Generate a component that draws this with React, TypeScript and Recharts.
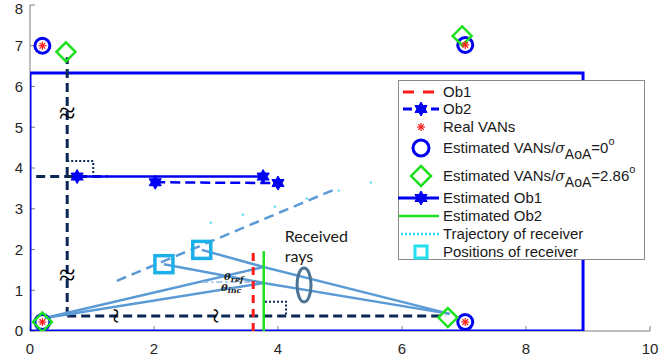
import React from "react";
import { Legend, Scatter, ScatterChart, XAxis, YAxis } from "recharts";

type Pt = { x: number; y: number; text?: string };

const W = 660;
const H = 362;

const BLUE = "#0000f2";
const NAVY = "#0b2754";
const RED = "#ff1a1a";
const GREEN = "#1ee01e";
const RAY = "#5b9bd5";
const CYAN = "#1cb0e8";
const AXIS = "#7f7f7f";

const xTicks = [0, 2, 4, 6, 8, 10];
const yTicks = [0, 1, 2, 3, 4, 5, 6, 7, 8];

// room walls
const room: Pt[] = [
  { x: 0, y: 0 },
  { x: 8.92, y: 0 },
  { x: 8.92, y: 6.33 },
  { x: 0, y: 6.33 },
  { x: 0, y: 0 },
];

const realVans: Pt[] = [
  { x: 0.2, y: 7.0 },
  { x: 7.02, y: 7.02 },
  { x: 0.2, y: 0.22 },
  { x: 7.02, y: 0.22 },
];
const estVansExact: Pt[] = [
  { x: 0.2, y: 7.0 },
  { x: 7.02, y: 7.02 },
  { x: 0.2, y: 0.22 },
  { x: 7.02, y: 0.22 },
];
const estVansNoisy: Pt[] = [
  { x: 0.58, y: 6.85 },
  { x: 6.97, y: 7.24 },
  { x: 0.2, y: 0.22 },
  { x: 6.74, y: 0.33 },
];

const ob1: Pt[] = [
  { x: 3.6, y: 0 },
  { x: 3.6, y: 2.04 },
];
const ob2: Pt[] = [
  { x: 2.02, y: 3.65 },
  { x: 4.0, y: 3.63 },
];
const estOb1: Pt[] = [
  { x: 0.76, y: 3.79 },
  { x: 3.76, y: 3.79 },
];
const estOb2: Pt[] = [
  { x: 3.77, y: 0 },
  { x: 3.77, y: 1.96 },
];

// receiver positions and reflected rays
const rxPositions: Pt[] = [
  { x: 2.16, y: 1.64 },
  { x: 2.77, y: 1.99 },
];
const tx: Pt = { x: 0.24, y: 0.32 };
const rxEnd: Pt = { x: 6.77, y: 0.42 };
const hitHigh: Pt = { x: 3.77, y: 1.57 };
const hitLow: Pt = { x: 3.77, y: 1.18 };
const rays: Pt[][] = [
  [tx, hitHigh, rxEnd],
  [tx, hitLow, rxEnd],
  [rxPositions[1], hitHigh],
  [rxPositions[0], hitLow],
];
const rayNormal: Pt[] = [
  { x: 2.78, y: 1.2 },
  { x: 3.55, y: 1.2 },
];
const rxLine: Pt[] = [
  { x: 1.4, y: 1.23 },
  { x: 4.97, y: 3.51 },
];
const trajectory: Pt[] = [
  { x: 2.9, y: 2.65 },
  { x: 5.75, y: 3.74 },
];

// projection guides
const guideVertical: Pt[] = [
  { x: 0.6, y: 0.37 },
  { x: 0.6, y: 6.72 },
];
const guideBottom: Pt[] = [
  { x: 0.6, y: 0.37 },
  { x: 6.7, y: 0.37 },
];
const guideTop: Pt[] = [
  { x: 0.1, y: 3.79 },
  { x: 1.25, y: 3.79 },
];
const cornerTop: Pt[] = [
  { x: 0.6, y: 4.17 },
  { x: 1.02, y: 4.17 },
  { x: 1.02, y: 3.8 },
];
const cornerBottom: Pt[] = [
  { x: 3.79, y: 0.72 },
  { x: 4.13, y: 0.72 },
  { x: 4.13, y: 0.39 },
];

const approxMarks: Pt[] = [
  { x: 0.6, y: 5.35 },
  { x: 0.6, y: 1.37 },
];
const breakMarks: Pt[] = [
  { x: 1.37, y: 0.37 },
  { x: 2.98, y: 0.37 },
];
const rayLabel: Pt[] = [
  { x: 4.11, y: 2.18, text: "Received" },
  { x: 4.11, y: 1.7, text: "rays" },
];
const angleLabels: Pt[] = [
  { x: 3.13, y: 1.25, text: "ref" },
  { x: 3.08, y: 0.97, text: "inc" },
];
const rayBundle: Pt[] = [{ x: 4.42, y: 1.13 }];

const legendLabels = [
  "Ob1",
  "Ob2",
  "Real VANs",
  "Estimated VANs/",
  "Estimated VANs/",
  "Estimated Ob1",
  "Estimated Ob2",
  "Trajectory of receiver",
  "Positions of receiver",
];
const sigmaValues = ["0", "2.86"];

const hidden = () => <g />;

const circleShape = (p: any) => (
  <circle cx={p.cx} cy={p.cy} r={7.5} fill="none" stroke={BLUE} strokeWidth={3} />
);

const diamondPoints = (cx: number, cy: number, s: number) =>
  `${cx},${cy - s} ${cx + s},${cy} ${cx},${cy + s} ${cx - s},${cy}`;

const diamondShape = (p: any) => (
  <polygon
    points={diamondPoints(p.cx, p.cy, 9.5)}
    fill="none"
    stroke={GREEN}
    strokeWidth={2.5}
  />
);

const asterisk = (cx: number, cy: number, r: number) => {
  const lines = [];
  for (let i = 0; i < 4; i++) {
    const a = (i * Math.PI) / 4;
    lines.push(
      <line
        key={i}
        x1={cx - r * Math.cos(a)}
        y1={cy - r * Math.sin(a)}
        x2={cx + r * Math.cos(a)}
        y2={cy + r * Math.sin(a)}
        stroke={RED}
        strokeWidth={1.2}
      />,
    );
  }
  return <g>{lines}</g>;
};
const asteriskShape = (p: any) => asterisk(p.cx, p.cy, 4);

const hexagram = (cx: number, cy: number, r: number) => {
  const pts: string[] = [];
  for (let i = 0; i < 12; i++) {
    const a = (i * Math.PI) / 6 - Math.PI / 2;
    const rr = i % 2 === 0 ? r : r * 0.58;
    pts.push(`${cx + rr * Math.cos(a)},${cy + rr * Math.sin(a)}`);
  }
  return <polygon points={pts.join(" ")} fill={BLUE} stroke={BLUE} strokeWidth={1} />;
};
const hexShape = (p: any) => hexagram(p.cx, p.cy, 7);

const squareShape = (p: any) => (
  <rect
    x={p.cx - 9}
    y={p.cy - 8.5}
    width={18}
    height={17}
    fill="none"
    stroke={CYAN}
    strokeWidth={3.5}
  />
);

const approxShape = (p: any) => (
  <text
    x={p.cx}
    y={p.cy + 10}
    textAnchor="middle"
    fontFamily="Liberation Serif"
    fontSize={30}
    fill="#000"
  >
    ≈
  </text>
);

const breakShape = (p: any) => (
  <text
    x={p.cx}
    y={p.cy + 8}
    textAnchor="middle"
    fontFamily="Liberation Serif"
    fontSize={28}
    fill="#000"
    transform={`rotate(90 ${p.cx} ${p.cy})`}
  >
    ~
  </text>
);

const rayLabelShape = (p: any) => (
  <text x={p.cx} y={p.cy} fontFamily="Lato" fontSize={16} fill="#1a1a1a">
    {p.payload.text}
  </text>
);

const angleShape = (p: any) => (
  <text
    x={p.cx}
    y={p.cy}
    fontFamily="DejaVu Serif"
    fontStyle="italic"
    fontWeight="bold"
    fontSize={10}
    fill="#1a1a1a"
  >
    θ
    <tspan fontSize={8} dy={2}>
      {p.payload.text}
    </tspan>
  </text>
);

const bundleShape = (p: any) => (
  <ellipse cx={p.cx} cy={p.cy} rx={7} ry={17} fill="none" stroke="#4a7396" strokeWidth={3} />
);

const path = (
  key: string,
  data: Pt[],
  stroke: string,
  width: number,
  dash?: string,
  shape: any = hidden,
) => (
  <Scatter
    key={key}
    data={data}
    fill={stroke}
    line={{ stroke, strokeWidth: width, strokeDasharray: dash }}
    shape={shape}
    legendType="none"
    isAnimationActive={false}
  />
);

const marks = (key: string, data: Pt[], shape: any) => (
  <Scatter
    key={key}
    data={data}
    shape={shape}
    legendType="none"
    isAnimationActive={false}
  />
);

function LegendBox() {
  const rowY = [12, 29, 47, 68, 96, 118, 136, 154, 172];
  const mx = 22;
  const font = { fontFamily: "Liberation Sans", fontSize: 15, fill: "#1a1a1a" };
  const marker = (i: number, y: number) => {
    switch (i) {
      case 0:
        return (
          <line x1={4} x2={40} y1={y} y2={y} stroke={RED} strokeWidth={3} strokeDasharray="11 9" />
        );
      case 1:
        return (
          <g>
            <line x1={4} x2={40} y1={y} y2={y} stroke={BLUE} strokeWidth={3} strokeDasharray="9 5" />
            {hexagram(mx, y, 7)}
          </g>
        );
      case 2:
        return asterisk(mx, y, 4);
      case 3:
        return <circle cx={mx} cy={y} r={8} fill="none" stroke={BLUE} strokeWidth={3} />;
      case 4:
        return (
          <polygon points={diamondPoints(mx, y, 10)} fill="none" stroke={GREEN} strokeWidth={2.5} />
        );
      case 5:
        return (
          <g>
            <line x1={-1} x2={40} y1={y} y2={y} stroke={BLUE} strokeWidth={3} />
            {hexagram(mx, y, 7)}
          </g>
        );
      case 6:
        return <line x1={0} x2={40} y1={y} y2={y} stroke={GREEN} strokeWidth={2.5} />;
      case 7:
        return (
          <line x1={2} x2={40} y1={y} y2={y} stroke="#22e0f0" strokeWidth={2.5} strokeDasharray="2 2" />
        );
      default:
        return <rect x={mx - 6} y={y - 6} width={12} height={12} fill="none" stroke="#22e0f0" strokeWidth={3} />;
    }
  };
  return (
    <div
      style={{
        width: 247,
        height: 180,
        boxSizing: "border-box",
        border: "1px solid #8a8a8a",
        background: "#fff",
      }}
    >
      <svg width={245} height={178} style={{ display: "block", overflow: "visible" }}>
        {legendLabels.map((label, i) => {
          const y = rowY[i] - 1;
          const sigma = i === 3 || i === 4 ? sigmaValues[i - 3] : null;
          return (
            <g key={label + i}>
              {marker(i, y)}
              <text x={44} y={y + 5} {...font}>
                {label}
                {sigma !== null && (
                  <>
                    <tspan fontStyle="italic" fontFamily="DejaVu Serif" fontSize={14}>
                      σ
                    </tspan>
                    <tspan fontSize={14} dy={6}>
                      AoA
                    </tspan>
                    <tspan dy={-6}>={sigma}</tspan>
                    <tspan fontSize={11} dy={-8}>
                      o
                    </tspan>
                  </>
                )}
              </text>
            </g>
          );
        })}
      </svg>
    </div>
  );
}

export default function App() {
  const tickFont = { fontSize: 15, fill: "#262626", fontFamily: "Liberation Sans" };
  return (
    <div style={{ position: "absolute", left: 0, top: 0, width: W, height: H, background: "#fff" }}>
      <ScatterChart width={W} height={H} margin={{ top: 5, right: 10, bottom: 0, left: 0 }}>
        <XAxis
          type="number"
          dataKey="x"
          domain={[0, 10]}
          ticks={xTicks}
          allowDataOverflow
          height={31}
          tickSize={-5}
          tickMargin={17}
          tick={tickFont}
          stroke={AXIS}
        />
        <XAxis
          xAxisId="top"
          orientation="top"
          type="number"
          dataKey="x"
          domain={[0, 10]}
          ticks={xTicks}
          allowDataOverflow
          height={0}
          tickSize={-5}
          tickFormatter={() => ""}
          stroke={AXIS}
        />
        <YAxis
          type="number"
          dataKey="y"
          domain={[0, 8]}
          ticks={yTicks}
          allowDataOverflow
          width={30}
          tickSize={-5}
          tickMargin={12}
          tick={tickFont}
          stroke={AXIS}
        />
        <YAxis
          yAxisId="right"
          orientation="right"
          type="number"
          dataKey="y"
          domain={[0, 8]}
          ticks={yTicks}
          allowDataOverflow
          width={0}
          tickSize={-5}
          tickFormatter={() => ""}
          stroke={AXIS}
        />

        {path("room", room, BLUE, 3)}
        {path("rxLine", rxLine, RAY, 2.5, "10 6")}
        {path("trajectory", trajectory, "#40dcef", 2, "2 31")}

        {path("guideV", guideVertical, NAVY, 3, "9 5")}
        {path("guideB", guideBottom, NAVY, 3, "9 5")}
        {path("guideT", guideTop, NAVY, 3, "9 5")}
        {path("cornerT", cornerTop, NAVY, 2, "2 2")}
        {path("cornerB", cornerBottom, NAVY, 2, "2 2")}

        {rays.map((r, i) => path(`ray${i}`, r, RAY, 2.5))}
        {path("normal", rayNormal, "#8fb6dd", 1.5, "6 3 2 3")}

        {path("ob1", ob1, RED, 3, "8 6")}
        {path("estOb2", estOb2, GREEN, 2.5)}
        {path("ob2", ob2, BLUE, 2.5, "10 5", hexShape)}
        {path("estOb1", estOb1, BLUE, 2.5, undefined, hexShape)}

        {marks("rxPos", rxPositions, squareShape)}
        {marks("bundle", rayBundle, bundleShape)}
        {marks("approx", approxMarks, approxShape)}
        {marks("breaks", breakMarks, breakShape)}
        {marks("rayLabel", rayLabel, rayLabelShape)}
        {marks("angles", angleLabels, angleShape)}

        {marks("estExact", estVansExact, circleShape)}
        {marks("estNoisy", estVansNoisy, diamondShape)}
        {marks("real", realVans, asteriskShape)}

        <Legend
          layout="vertical"
          align="center"
          verticalAlign="middle"
          wrapperStyle={{ left: 398, top: 80, width: 247, height: 180 }}
          content={() => <LegendBox />}
        />
      </ScatterChart>
    </div>
  );
}
